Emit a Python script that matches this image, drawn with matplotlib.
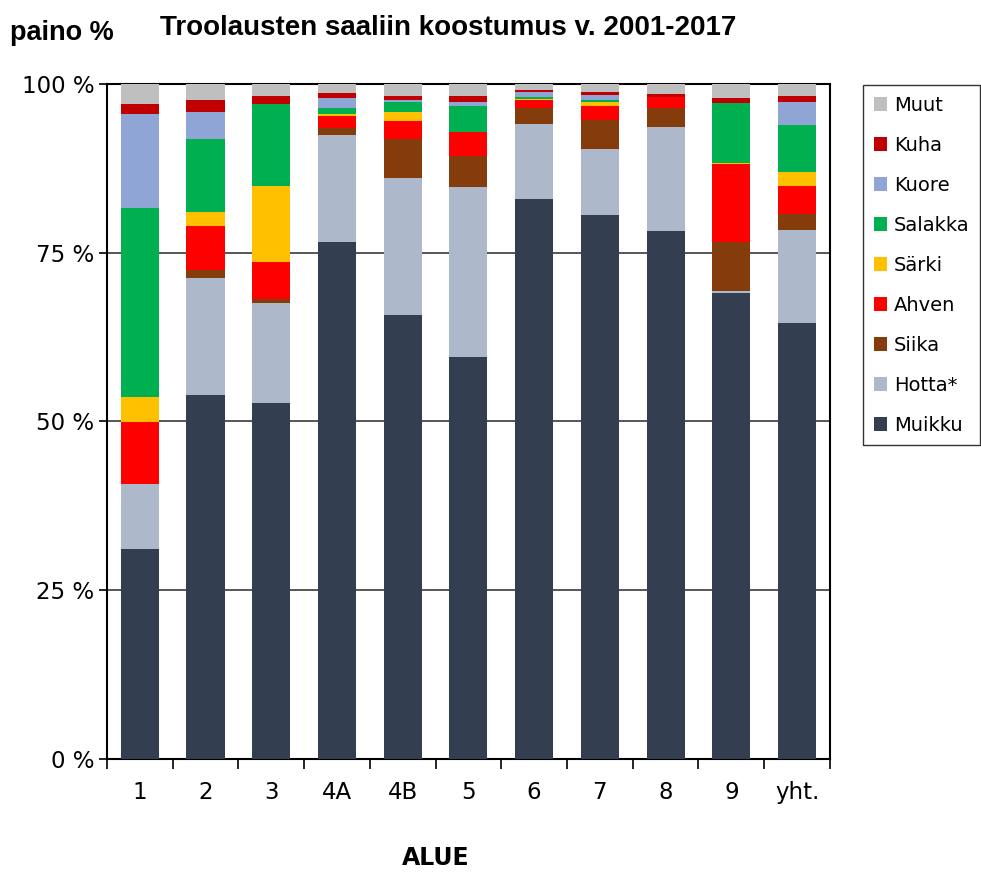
import numpy as np
import matplotlib.pyplot as plt
from matplotlib.patches import Patch

plt.rcParams['font.family'] = ['DejaVu Sans']

# categories (areas) and species shares, % of catch weight
alueet = ['1', '2', '3', '4A', '4B', '5', '6', '7', '8', '9', 'yht.']
lajit = ['Muikku', 'Hotta*', 'Siika', 'Ahven', 'Särki', 'Salakka', 'Kuore', 'Kuha', 'Muut']

muikku  = [31.1, 53.9, 52.7, 76.6, 65.8, 59.6, 83.0, 80.6, 78.2, 69.0, 64.6]
hotta   = [9.6, 17.3, 14.9, 15.9, 20.3, 25.1, 11.0, 9.7, 15.5, 0.3, 13.7]
siika   = [0.1, 1.2, 0.6, 1.0, 5.8, 4.6, 2.5, 4.3, 2.8, 7.3, 2.4]
ahven   = [9.1, 6.6, 5.4, 1.8, 2.6, 3.6, 1.1, 2.2, 1.6, 11.5, 4.2]
sarki   = [3.8, 2.1, 11.3, 0.3, 1.3, 0.0, 0.2, 0.6, 0.0, 0.2, 2.1]
salakka = [28.0, 10.8, 12.2, 0.9, 1.6, 3.9, 0.2, 0.2, 0.0, 8.9, 6.9]
kuore   = [13.9, 4.0, 0.0, 1.4, 0.2, 0.5, 0.8, 0.8, 0.0, 0.0, 3.5]
kuha    = [1.5, 1.8, 1.1, 0.7, 0.6, 0.9, 0.3, 0.4, 0.4, 0.7, 0.8]
muut    = [3.0, 2.3, 1.8, 1.4, 1.8, 1.8, 0.9, 1.2, 1.5, 2.1, 1.8]

sarjat = [muikku, hotta, siika, ahven, sarki, salakka, kuore, kuha, muut]
varit = ['#333F50', '#ADB9CA', '#843C0C', '#FF0000', '#FFC000',
         '#00B050', '#8EA5D5', '#C00000', '#BFBFBF']

fig = plt.figure(figsize=(9.81, 8.75), dpi=100)
ax = fig.add_axes([0.109, 0.1326, 0.737, 0.7714])

x = np.arange(len(alueet))
pohja = np.zeros(len(alueet))
for arvot, vari, nimi in zip(sarjat, varit, lajit):
    arvot = np.array(arvot)
    ax.bar(x, arvot, bottom=pohja, width=0.58, color=vari, label=nimi,
           zorder=3, edgecolor='none')
    pohja += arvot

ax.set_xlim(-0.5, len(alueet) - 0.5)
ax.set_ylim(0, 100)

# gridlines
for yy in [25, 50, 75]:
    ax.axhline(yy, color='#4a4a4a', lw=1.3, zorder=1)

ax.set_yticks([0, 25, 50, 75, 100])
ax.set_yticklabels(['0 %', '25 %', '50 %', '75 %', '100 %'], fontsize=16.5)
ax.tick_params(axis='y', length=6, width=1.2, direction='out', pad=3)

# x ticks on category borders, labels in the middle
ax.set_xticks(np.arange(len(alueet) + 1) - 0.5)
ax.set_xticklabels([])
ax.set_xticks(x, minor=True)
ax.set_xticklabels(alueet, minor=True, fontsize=16.5)
ax.tick_params(axis='x', which='major', length=7, width=1.2, direction='out')
ax.tick_params(axis='x', which='minor', length=0, pad=16)

for s in ax.spines.values():
    s.set_linewidth(1.5)
    s.set_color('black')

fig.text(0.01, 0.962, 'paino %', family='Liberation Sans', fontsize=19.5,
         fontweight='bold', va='center')
fig.text(0.163, 0.968, 'Troolausten saaliin koostumus v. 2001-2017',
         family='Liberation Sans', fontsize=20, fontweight='bold', va='center')
fig.text(0.444, 0.006, 'ALUE', fontsize=17, fontweight='bold', ha='center', va='bottom')

kahvat = [Patch(facecolor=v, edgecolor='none') for v in varit][::-1]
leg = fig.legend(kahvat, lajit[::-1], loc='upper left',
                 bbox_to_anchor=(0.8797, 0.903), fontsize=14,
                 frameon=True, fancybox=False, edgecolor='black',
                 handlelength=0.7, handleheight=0.7, handletextpad=0.35,
                 labelspacing=1.08, borderpad=0.55, borderaxespad=0)
leg.get_frame().set_linewidth(1.0)

fig.savefig('out.png', dpi=100)
